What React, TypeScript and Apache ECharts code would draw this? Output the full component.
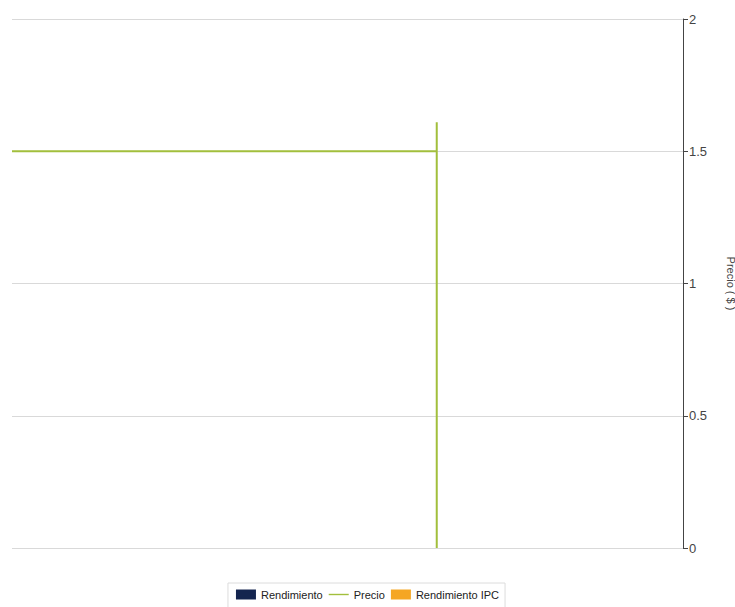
import React, { useEffect, useRef } from "react";
import * as echarts from "echarts";

const seriesNames = ["Rendimiento", "Precio", "Rendimiento IPC"];
const priceX = [0, 63.3, 63.3, 63.3];
const priceY = [1.5, 1.5, 1.61, 0];
const rendimiento: number[][] = [];
const rendimientoIPC: number[][] = [];
const yTicks = [0, 0.5, 1, 1.5, 2];

const FONT = "'Liberation Sans', Arial, sans-serif";

export default function App() {
  const ref = useRef<HTMLDivElement>(null);
  useEffect(() => {
    if (!ref.current) return;
    const chart = echarts.init(ref.current, undefined, { renderer: "svg" });
    chart.setOption({
      animation: false,
      backgroundColor: "#ffffff",
      grid: { left: 12, right: 52, top: 19, bottom: 59, containLabel: false, outerBoundsMode: "none" },
      legend: {
        bottom: -1,
        left: "center",
        borderWidth: 1,
        borderColor: "#dcdcdc",
        padding: [6, 6, 8, 8],
        itemGap: 6,
        itemWidth: 20,
        itemHeight: 10,
        textStyle: { fontFamily: FONT, fontSize: 11, color: "#222" },
        data: [
          { name: seriesNames[0], icon: "rect" },
          { name: seriesNames[1], icon: "path://M0,4.3H20V5.7H0Z" },
          { name: seriesNames[2], icon: "rect" },
        ],
      },
      xAxis: {
        type: "value",
        min: 0,
        max: 100,
        show: false,
      },
      yAxis: {
        type: "value",
        position: "right",
        min: yTicks[0],
        max: yTicks[yTicks.length - 1],
        interval: 0.5,
        name: "Precio ( $ )",
        nameLocation: "middle",
        nameRotate: -90,
        nameGap: 42,
        nameTextStyle: { fontFamily: FONT, fontSize: 11, color: "#444" },
        axisLine: { show: true, onZero: false, lineStyle: { color: "#444", width: 1 } },
        axisTick: { show: true, length: 5, lineStyle: { color: "#444" } },
        axisLabel: {
          fontFamily: FONT,
          fontSize: 13,
          color: "#444",
          margin: 6,
          formatter: (v: number) => String(v),
        },
        splitLine: { show: true, lineStyle: { color: "#d9d9d9", width: 1 } },
      },
      series: [
        {
          name: seriesNames[0],
          type: "bar",
          data: rendimiento,
          itemStyle: { color: "#14254f" },
        },
        {
          name: seriesNames[1],
          type: "line",
          data: priceX.map((x, i) => [x, priceY[i]]),
          showSymbol: false,
          symbol: "none",
          lineStyle: { color: "#a2bf3c", width: 2 },
          itemStyle: { color: "#a2bf3c" },
        },
        {
          name: seriesNames[2],
          type: "bar",
          data: rendimientoIPC,
          itemStyle: { color: "#f5a623" },
        },
      ],
    });
    return () => chart.dispose();
  }, []);
  return (
    <div
      ref={ref}
      style={{ position: "fixed", left: 0, top: 0, width: 735, height: 607 }}
    />
  );
}
